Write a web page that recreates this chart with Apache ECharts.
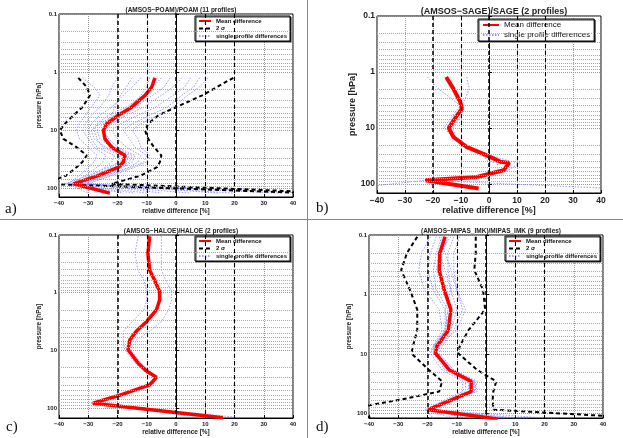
<!DOCTYPE html>
<html>
<head>
<meta charset="utf-8">
<script src="https://cdn.jsdelivr.net/npm/echarts@6/dist/echarts.min.js"></script>
<style>
html, body { margin: 0; padding: 0; background: #fff; }
#chart { width: 623px; height: 438px; }
</style>
</head>
<body>
<div id="chart"></div>
<script>
// reference lines and tick labels
const refLines = [-20, -10, 0, 10, 20]
const pressureTicks = [0.1, 1, 10, 100]

// a) POAM
const aLev = [1.25, 1.8, 2.5, 4, 5.5, 7.7, 10, 14, 19.5, 27, 35, 43, 60, 83, 120]
const aMean = [-7.2, -8.3, -10.6, -15.2, -19.7, -23.7, -24.8, -24.3, -22, -17.4, -18, -19.7, -26.6, -35.1, -22.6]
const aLow = [-33.4, -30.5, -29.4, -32, -35, -38, -39.7, -38.5, -34, -30.5, -32, -34, -37.5, -45, 45]
const aHigh = [19.6, 14, 9, 0, -6, -9.5, -10.6, -9.5, -7.5, -5, -5.5, -6.5, -12, -22, 55]
const aProfiles = [
  [-32, -28, -26, -29, -31, -33, -34, -33, -30, -27, -28, -30, -33, -37, -30],
  [-20, -22, -23, -26, -29, -31, -32, -30, -28, -24, -25, -27, -31, -36, -18],
  [-12, -15, -18, -22, -26, -29, -30, -29, -27, -21, -22, -24, -29, -35, -10],
  [-5, -8, -11, -17, -23, -27, -28, -27, -25, -19, -20, -22, -28, -34, 5],
  [-2, -4, -8, -14, -20, -25, -27, -26, -22, -16, -17, -20, -26, -33, 20],
  [2, -1, -5, -11, -17, -22, -25, -23, -20, -14, -15, -18, -25, -33, 35],
  [5, 3, -1, -7, -13, -19, -22, -20, -17, -12, -13, -16, -24, -32, 45],
  [8, 6, 2, -3, -9, -15, -18, -16, -14, -10, -11, -15, -23, -31, 15],
  [11, 8, 4, -1, -6, -12, -15, -13, -12, -9, -10, -14, -22, -30, -5],
  [-15, -17, -19, -21, -22, -24, -25, -24, -21, -15, -16, -19, -27, -36, -25],
  [-9, -10, -12, -16, -21, -26, -29, -28, -24, -18, -19, -23, -30, -38, -14]
]

// b) SAGE
const bLev = [1.23, 2.0, 3.4, 4.5, 6, 10, 14.5, 22, 29, 40, 42, 57, 75, 86, 121]
const bMean = [-15.3, -12.7, -10.3, -9.7, -11.5, -14.4, -12.7, -7.9, -2, 4, 7.2, 5.2, -4.3, -22.8, -3.7]
const bProfiles = [
  [-8, -7, -9, -11, -13, -16, -13, -8, -1, 8, 11, 7, -4, -22, 45],
  [-22, -18, -12, -9, -10, -13, -12, -8, -3, 0, 3, 3, -5, -23, -50]
]

// c) HALOE
const cLev = [0.105, 0.21, 0.41, 0.61, 0.96, 1.34, 2, 3.2, 4.7, 6.6, 9.8, 16.6, 23, 29.5, 40, 63, 83, 148]
const cMean = [-9, -9.6, -9, -7.3, -5.6, -5.6, -6.7, -10.1, -13.6, -15.8, -16.4, -13, -10.1, -6.7, -9, -20.4, -28.4, 16]
const cProfiles = [
  [-13, -14, -13, -11, -10, -10, -11, -15, -18, -18, -17.5, -14, -11, -7, -10, -21, -29, 10],
  [-5, -5, -5, -3.5, -1.5, -1.5, -2.5, -5, -9, -13.5, -15.5, -12, -9, -6.5, -8, -20, -28, 22]
]

// d) MIPAS_IMK
const dLev = [0.107, 0.2, 0.39, 0.84, 1.8, 4, 7.5, 9.8, 18.7, 29, 43, 56, 87, 125]
const dMean = [-14, -15.8, -16, -14.3, -12, -12.9, -16.9, -17.2, -12.5, -5.1, -5.1, -10.6, -19.7, 4]
const dLow = [-23.5, -27, -29, -26, -23.5, -23.5, -25, -25.5, -19.5, -15, -16, -27, -48, -38]
const dHigh = [-3.5, -3.5, -4, -1, -0.3, -6, -9, -9.5, -3, 3.5, 2.5, 2.3, 2.5, 60]
const dProfiles = [
  [-19, -22, -23, -21, -16, -15, -18, -19, -15, -8, -8, -13, -21, -10],
  [-17, -19, -20, -18, -14, -14, -18, -18, -14, -7, -7, -12, -20, -5],
  [-15, -17, -18, -17, -13, -14, -17, -17, -13, -6, -6, -11, -20, 0],
  [-13, -15, -16, -14, -12, -13, -16, -17, -12, -5, -5, -10, -20, 5],
  [-11, -13, -13, -12, -10, -12, -16, -17, -12, -4, -4, -10, -19, 8],
  [-16, -14, -12, -10, -8, -11, -15, -16, -11, -3, -4, -10, -19, 12],
  [-9, -11, -11, -10, -7, -10, -17, -18, -12, -4, -3, -9, -19, 15],
  [-12, -16, -17, -14, -12, -14, -18, -18, -12, -5, -4, -10, -19, 25],
  [-14, -16, -14, -12, -14, -13, -17, -17, -11, -4, -5, -10, -20, -18]
]

const FONT = 'Liberation Sans'
const MEAN = 'Mean difference'
const SIG = '2 σ'
const SINGLE = 'single profile differences'

const panels = [
  { title: '(AMSOS−POAM)/POAM (11 profiles)', lev: aLev, mean: aMean, low: aLow, high: aHigh, profiles: aProfiles,
    grid: { left: 59, top: 14, width: 234, height: 183 }, ymax: 140, big: false, tag: 'a)', tagPos: [5, 202],
    legendPos: { left: 195, top: 16 } },
  { title: '(AMSOS−SAGE)/SAGE (2 profiles)', lev: bLev, mean: bMean, low: null, high: null, profiles: bProfiles,
    grid: { left: 377, top: 16, width: 224, height: 177 }, ymax: 145, big: true, tag: 'b)', tagPos: [316, 201],
    legendPos: { left: 478, top: 19 } },
  { title: '(AMSOS−HALOE)/HALOE (2 profiles)', lev: cLev, mean: cMean, low: null, high: null, profiles: cProfiles,
    grid: { left: 59, top: 235, width: 234, height: 183 }, ymax: 150, big: false, tag: 'c)', tagPos: [6, 420],
    legendPos: { left: 195, top: 236 } },
  { title: '(AMSOS−MIPAS_IMK)/MIPAS_IMK (9 profiles)', lev: dLev, mean: dMean, low: dLow, high: dHigh, profiles: dProfiles,
    grid: { left: 369, top: 235, width: 234, height: 183 }, ymax: 120, big: false, tag: 'd)', tagPos: [316, 420],
    legendPos: { left: 505, top: 236 } }
]

function pairs(lev, xs) {
  return lev.map((p, i) => [xs[i], p])
}

const grids = [], xAxes = [], yAxes = [], series = [], titles = [], legends = [], graphics = []

panels.forEach((pn, i) => {
  const fs = pn.big ? 8.5 : 6
  const nameFs = pn.big ? 9 : 6.5
  grids.push(Object.assign({ show: true, borderColor: '#000', borderWidth: 1, backgroundColor: '#fff' }, pn.grid))

  xAxes.push({
    gridIndex: i, type: 'value', min: -40, max: 40, interval: 10,
    axisLine: { lineStyle: { color: '#000', width: 1 } },
    axisTick: { inside: true, length: 3, lineStyle: { color: '#000' } },
    axisLabel: {
      fontSize: fs, fontWeight: 'bold', color: '#222', margin: 3, fontFamily: FONT,
      formatter: v => (v < 0 ? '−' + (-v) : String(v))
    },
    splitLine: { show: true, lineStyle: { type: 'dotted', color: '#999', width: 1 } },
    name: 'relative difference [%]', nameLocation: 'middle', nameGap: pn.big ? 12 : 11,
    nameTextStyle: { fontSize: nameFs, fontWeight: 'bold', color: '#222', fontFamily: FONT }
  })

  yAxes.push({
    gridIndex: i, type: 'log', logBase: 10, min: 0.1, max: pn.ymax, inverse: true,
    axisLine: { lineStyle: { color: '#000', width: 1 } },
    axisTick: { inside: true, length: 3, lineStyle: { color: '#000' } },
    axisLabel: {
      fontSize: fs, fontWeight: 'bold', color: '#222', margin: 2, fontFamily: FONT,
      formatter: v => {
        const hit = pressureTicks.find(t => Math.abs(Math.log10(v) - Math.log10(t)) < 1e-6)
        return hit === undefined ? '' : String(hit)
      }
    },
    splitLine: { show: true, lineStyle: { type: 'dotted', color: '#999', width: 1 } },
    name: 'pressure [hPa]', nameLocation: 'middle', nameGap: pn.big ? 19 : 13,
    nameTextStyle: { fontSize: nameFs, fontWeight: 'bold', color: '#222', fontFamily: FONT }
  })

  // minor log grid lines (2..9 in each decade) and black dashed reference lines
  const minor = []
  pressureTicks.forEach(d => {
    for (let k = 2; k <= 9; k++) if (k * d < pn.ymax) minor.push({ yAxis: k * d })
  })
  series.push({
    type: 'line', xAxisIndex: i, yAxisIndex: i, data: [], symbol: 'none', silent: true, z: 1,
    markLine: {
      silent: true, symbol: ['none', 'none'], label: { show: false }, animation: false,
      data: minor.map(m => Object.assign({ lineStyle: { type: 'dotted', color: '#aaa', width: 1 } }, m))
        .concat(refLines.map(v => ({
          xAxis: v,
          lineStyle: { type: [4, 3], color: '#000', width: (v === -20 || v === 0) ? 1.5 : 1.1 }
        })))
    }
  })

  pn.profiles.forEach(pr => {
    series.push({
      name: SINGLE, type: 'line', xAxisIndex: i, yAxisIndex: i, symbol: 'none', z: 2,
      data: pairs(pn.lev, pr),
      lineStyle: { color: '#7878ff', width: 1, type: [1.5, 1.5], opacity: 0.75 },
      itemStyle: { color: '#7878ff' }
    })
  })

  if (pn.low) {
    [pn.low, pn.high].forEach(arr => {
      series.push({
        name: SIG, type: 'line', xAxisIndex: i, yAxisIndex: i, symbol: 'none', z: 3,
        data: pairs(pn.lev, arr),
        lineStyle: { color: '#000', width: 2, type: [4, 3] },
        itemStyle: { color: '#000' }
      })
    })
  }

  series.push({
    name: MEAN, type: 'line', xAxisIndex: i, yAxisIndex: i, symbol: 'none', z: 4,
    data: pairs(pn.lev, pn.mean),
    lineStyle: { color: '#ff0000', width: pn.big ? 4 : 3.5 },
    itemStyle: { color: '#ff0000' }
  })

  titles.push({
    text: pn.title, left: pn.grid.left + pn.grid.width / 2, top: pn.big ? 2 : pn.grid.top - 12,
    textAlign: 'center',
    textStyle: { fontSize: pn.big ? 9 : 6.5, fontWeight: 'bold', color: '#222', fontFamily: FONT }
  })

  // panel b has no 2 sigma entry
  const legendData = pn.big ? [MEAN, SINGLE] : [MEAN, SIG, SINGLE]
  legends.push({
    data: legendData, orient: 'vertical', left: pn.legendPos.left, top: pn.legendPos.top,
    backgroundColor: '#fff', borderColor: '#000', borderWidth: 1,
    shadowColor: 'rgba(0,0,0,0.8)', shadowOffsetX: 1, shadowOffsetY: 1,
    padding: pn.big ? [2, 4, 2, 4] : [2, 3, 2, 3],
    itemGap: pn.big ? 2 : 1.5, itemWidth: pn.big ? 16 : 12, itemHeight: pn.big ? 7 : 6,
    itemStyle: { opacity: 0 },
    selectedMode: false,
    textStyle: { fontSize: pn.big ? 8 : 6, fontWeight: pn.big ? 'normal' : 'bold', color: '#111', fontFamily: FONT }
  })

  graphics.push({
    type: 'text', left: pn.tagPos[0], top: pn.tagPos[1],
    style: { text: pn.tag, fontSize: 15, fontFamily: 'Liberation Serif', fill: '#111' }
  })
})

// panel separators
graphics.push({ type: 'line', shape: { x1: 307.5, y1: 0, x2: 307.5, y2: 438 }, style: { stroke: '#888', lineWidth: 1 } })
graphics.push({ type: 'line', shape: { x1: 0, y1: 219.5, x2: 623, y2: 219.5 }, style: { stroke: '#888', lineWidth: 1 } })

const chart = echarts.init(document.getElementById('chart'), null, { renderer: 'canvas' })
chart.setOption({
  animation: false,
  backgroundColor: '#fff',
  title: titles,
  legend: legends,
  grid: grids,
  xAxis: xAxes,
  yAxis: yAxes,
  series: series,
  graphic: graphics
})
</script>
</body>
</html>
